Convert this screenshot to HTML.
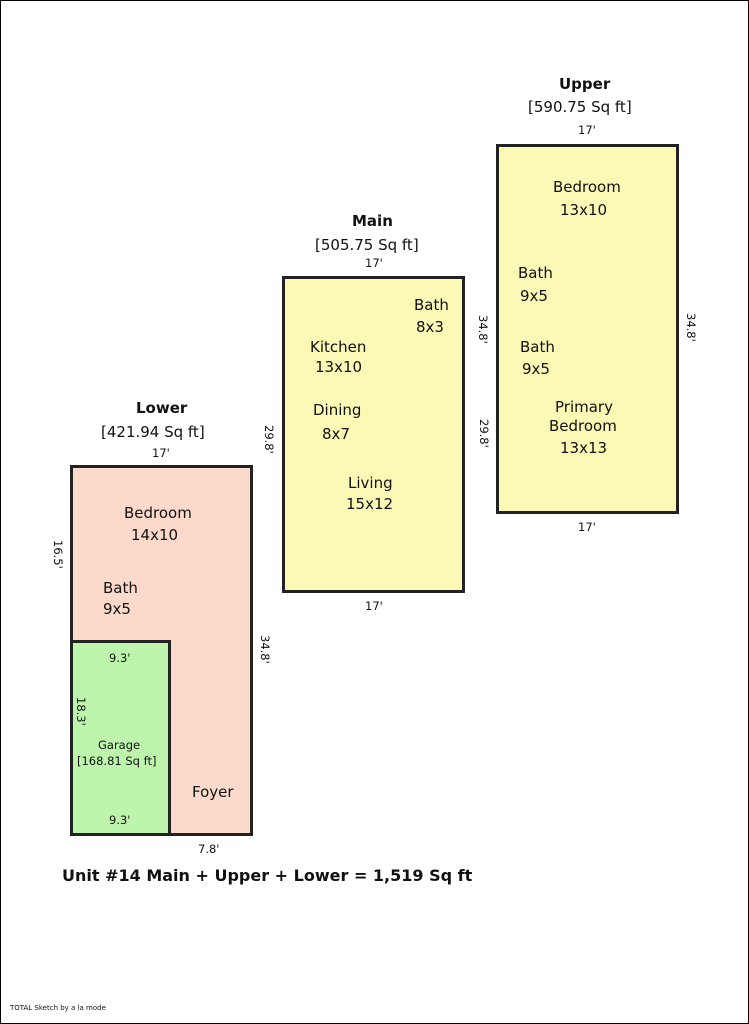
<!DOCTYPE html>
<html><head><meta charset="utf-8"><style>
body{margin:0;width:749px;height:1024px;background:#fff;position:relative;overflow:hidden;font-family:"DejaVu Sans",sans-serif;}
#frame{position:absolute;left:0;top:0;width:747px;height:1022px;border:1px solid #000;}
.r{position:absolute;box-sizing:border-box;border:3px solid #222;}
.t{position:absolute;font-size:15px;color:#111;white-space:nowrap;line-height:20px;}
.d{position:absolute;font-size:11.5px;color:#111;white-space:nowrap;}
.v{transform:rotate(90deg);transform-origin:left top;}
.h{font-weight:bold;}
</style></head><body>
<div id="frame"></div>
<!-- Lower -->
<div class="r" style="left:70px;top:465px;width:183px;height:371px;background:#fbd9cb"></div>
<div class="r" style="left:70px;top:640px;width:101px;height:196px;background:#bef5ad"></div>
<div class="t h" style="left:136px;top:398px">Lower</div>
<div class="t" style="left:101px;top:422px">[421.94 Sq ft]</div>
<div class="d" style="left:152px;top:446px">17'</div>
<div class="t" style="left:124px;top:503px">Bedroom</div>
<div class="t" style="left:131px;top:525px">14x10</div>
<div class="t" style="left:103px;top:578px">Bath</div>
<div class="t" style="left:103px;top:599px">9x5</div>
<div class="d" style="left:109px;top:651px">9.3'</div>
<div class="d" style="left:109px;top:813px">9.3'</div>
<div class="d" style="left:98px;top:738px">Garage</div>
<div class="d" style="left:77px;top:754px">[168.81 Sq ft]</div>
<div class="t" style="left:192px;top:782px">Foyer</div>
<div class="d" style="left:198px;top:842px">7.8'</div>
<div class="d v" style="left:65px;top:540px">16.5'</div>
<div class="d v" style="left:272px;top:635px">34.8'</div>
<div class="d v" style="left:88px;top:697px">18.3'</div>
<!-- Main -->
<div class="r" style="left:282px;top:276px;width:183px;height:317px;background:#fbf9b5"></div>
<div class="t h" style="left:352px;top:211px">Main</div>
<div class="t" style="left:315px;top:235px">[505.75 Sq ft]</div>
<div class="d" style="left:365px;top:256px">17'</div>
<div class="d" style="left:365px;top:599px">17'</div>
<div class="t" style="left:414px;top:295px">Bath</div>
<div class="t" style="left:416px;top:317px">8x3</div>
<div class="t" style="left:310px;top:337px">Kitchen</div>
<div class="t" style="left:315px;top:357px">13x10</div>
<div class="t" style="left:313px;top:400px">Dining</div>
<div class="t" style="left:322px;top:424px">8x7</div>
<div class="t" style="left:348px;top:473px">Living</div>
<div class="t" style="left:346px;top:494px">15x12</div>
<div class="d v" style="left:276px;top:425px">29.8'</div>
<div class="d v" style="left:491px;top:419px">29.8'</div>
<!-- Upper -->
<div class="r" style="left:496px;top:144px;width:183px;height:370px;background:#fbf9b5"></div>
<div class="t h" style="left:559px;top:74px">Upper</div>
<div class="t" style="left:528px;top:97px">[590.75 Sq ft]</div>
<div class="d" style="left:578px;top:123px">17'</div>
<div class="d" style="left:578px;top:520px">17'</div>
<div class="t" style="left:553px;top:177px">Bedroom</div>
<div class="t" style="left:560px;top:200px">13x10</div>
<div class="t" style="left:518px;top:263px">Bath</div>
<div class="t" style="left:520px;top:286px">9x5</div>
<div class="t" style="left:520px;top:337px">Bath</div>
<div class="t" style="left:522px;top:359px">9x5</div>
<div class="t" style="left:555px;top:397px">Primary</div>
<div class="t" style="left:549px;top:416px">Bedroom</div>
<div class="t" style="left:560px;top:438px">13x13</div>
<div class="d v" style="left:490px;top:315px">34.8'</div>
<div class="d v" style="left:698px;top:313px">34.8'</div>
<!-- Footer -->
<div class="t h" style="left:62px;top:866px;font-size:16px">Unit #14 Main + Upper + Lower = 1,519 Sq ft</div>
<div class="d" style="left:10px;top:1004px;font-size:7px">TOTAL Sketch by a la mode</div>
</body></html>
